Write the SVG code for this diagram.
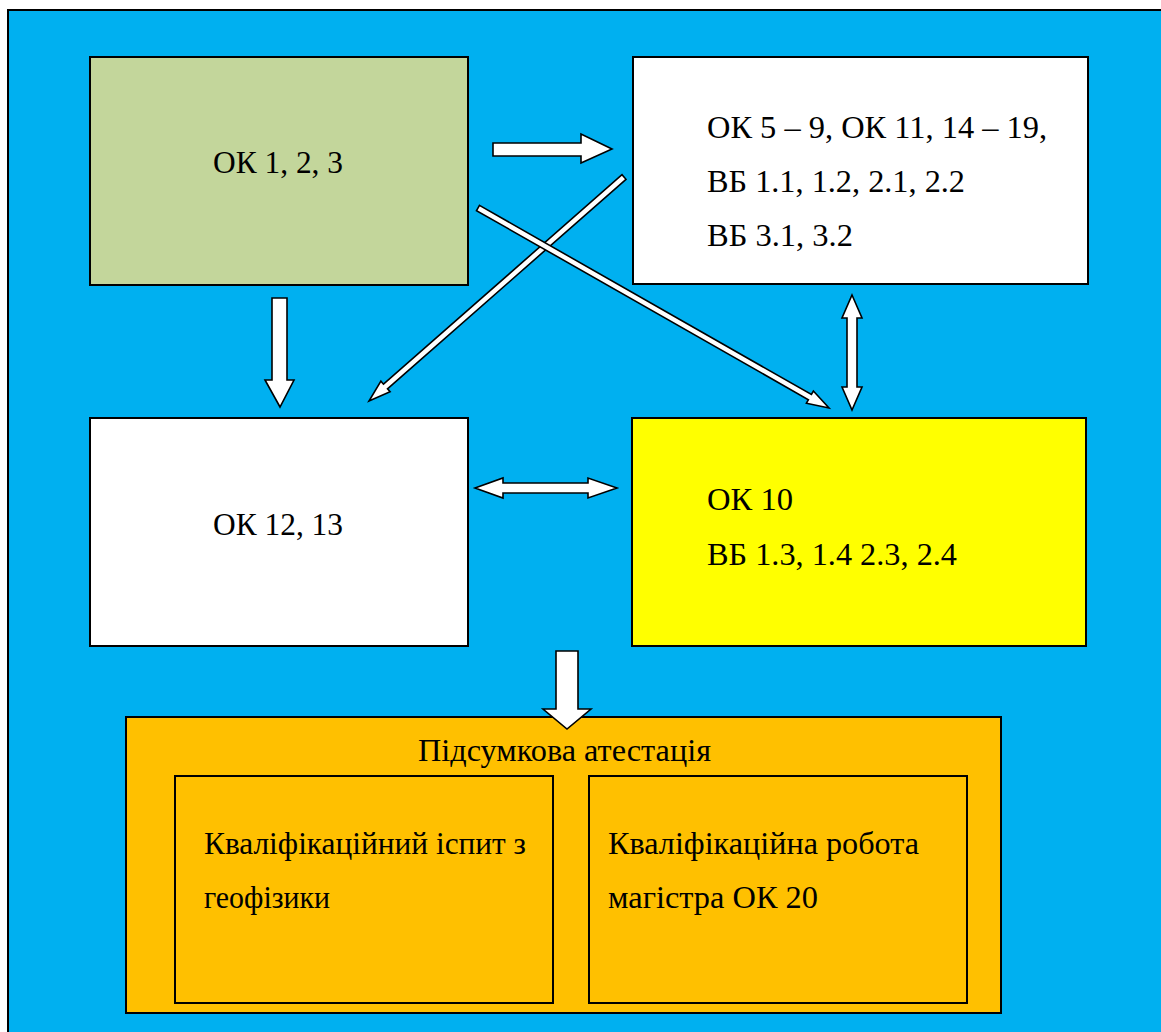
<svg xmlns="http://www.w3.org/2000/svg" width="1161" height="1032" viewBox="0 0 1161 1032">
<style>
.box{stroke:#000;stroke-width:2}
.t{font-family:'Liberation Serif','DejaVu Serif','Noto Serif','Times New Roman',serif;font-size:32px;fill:#000}
.c{text-anchor:middle}
.ar{fill:#fff;stroke:#000;stroke-width:1.6;stroke-linejoin:miter}
</style>
<rect x="8" y="10" width="1160" height="1030" fill="#00B0F0" stroke="#000" stroke-width="2"/>
<g id="node-ok123">
<rect class="box" x="90" y="57" width="378" height="228" fill="#C3D69B"/>
<text class="t" x="213" y="173" textLength="130" lengthAdjust="spacingAndGlyphs">ОК 1, 2, 3</text>
</g>
<g id="node-ok5-19">
<rect class="box" x="633" y="57" width="455" height="227" fill="#fff"/>
<text class="t" x="707" y="138" textLength="340" lengthAdjust="spacingAndGlyphs">ОК 5 – 9, ОК 11, 14 – 19,</text>
<text class="t" x="707" y="192" textLength="258" lengthAdjust="spacingAndGlyphs">ВБ 1.1, 1.2, 2.1, 2.2</text>
<text class="t" x="707" y="246" textLength="146" lengthAdjust="spacingAndGlyphs">ВБ 3.1, 3.2</text>
</g>
<g id="node-ok1213">
<rect class="box" x="90" y="418" width="378" height="228" fill="#fff"/>
<text class="t" x="213" y="535" textLength="130" lengthAdjust="spacingAndGlyphs">ОК 12, 13</text>
</g>
<g id="node-ok10">
<rect class="box" x="632" y="418" width="454" height="228" fill="#FFFF00"/>
<text class="t" x="707" y="510" textLength="86" lengthAdjust="spacingAndGlyphs">ОК 10</text>
<text class="t" x="707" y="565" textLength="250" lengthAdjust="spacingAndGlyphs">ВБ 1.3, 1.4 2.3, 2.4</text>
</g>
<g id="node-attestation">
<rect class="box" x="126" y="717" width="875" height="296" fill="#FFC000"/>
<text class="t" x="418" y="761" textLength="293" lengthAdjust="spacingAndGlyphs">Підсумкова атестація</text>
<g id="node-exam">
<rect class="box" x="175" y="776" width="378" height="227" fill="#FFC000"/>
<text class="t" x="204" y="854" textLength="322" lengthAdjust="spacingAndGlyphs">Кваліфікаційний іспит з</text>
<text class="t" x="204" y="908" textLength="126" lengthAdjust="spacingAndGlyphs">геофізики</text>
</g>
<g id="node-thesis">
<rect class="box" x="589" y="776" width="378" height="227" fill="#FFC000"/>
<text class="t" x="608" y="854" textLength="311" lengthAdjust="spacingAndGlyphs">Кваліфікаційна робота</text>
<text class="t" x="608" y="908" textLength="210" lengthAdjust="spacingAndGlyphs">магістра ОК 20</text>
</g>
</g>
<g id="connectors">
<polygon class="ar" points="493,143 581,143 581,134 612,149 581,163 581,156 493,156"/>
<polygon class="ar" points="272,298 287,298 287,380 294,380 280,407 265,380 272,380"/>
<polygon class="ar" points="852,295 862,318 857,318 857,387 862,387 852,410 842,387 847,387 847,318 842,318"/>
<polygon class="ar" points="475,488 503,478 503,483 588,483 588,478 617,488 588,498 588,493 503,493 503,498"/>
<polygon class="ar" points="556,651 578,651 578,709 591,709 567,729 543,709 556,709"/>
<polygon class="ar" points="626,179.3 387.5,388.8 390.1,391.8 369,401 380.9,381.2 383.5,384.2 622,174.7"/>
<polygon class="ar" points="479.5,205.4 811.4,394.5 813.4,391 829,408 806.4,403.2 808.4,399.7 476.5,210.6"/>
</g>
</svg>
